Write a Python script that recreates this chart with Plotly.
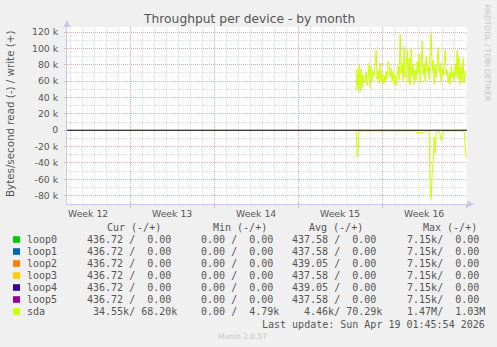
import pandas as pd
import plotly.graph_objects as go

# ---------------- data ----------------
# sda write (+) and read (-) throughput, in kB/s, 2-hour samples
sda_write_k = [
    48, 75, 50, 80, 47, 75, 52, 68, 58, 62,
    72, 55, 65, 82, 52, 78, 60, 72, 66, 85,
    98, 62, 74, 58, 82, 60, 70, 57, 66, 58,
    72, 62, 84, 80, 65, 76, 60, 72, 56, 68,
    54, 65, 78, 62, 117, 70, 82, 60, 102, 64,
    78, 98, 58, 88, 55, 100, 66, 80, 56, 74,
    62, 84, 70, 93, 58, 76, 109, 68, 82, 60,
    90, 72, 78, 62, 96, 118, 72, 86, 56, 80,
    64, 88, 101, 70, 82, 60, 76, 66, 84, 98,
    68, 74, 58, 70, 56, 78, 64, 72, 60, 80,
    66, 98, 62, 90, 56, 78, 60, 88, 58, 72, 68,
]
sda_read_k = [
    1.0, 33, 24, 1.2, 0.8, 1.1, 0.6, 1.3, 0.9, 1.0,
    0.7, 1.2, 1.0, 0.8, 1.1, 0.9, 1.3, 0.7, 1.0, 1.2,
    0.8, 1.0, 0.9, 1.1, 1.4, 2.7, 1.2, 0.9, 1.0, 0.8,
    1.1, 0.9, 1.0, 1.2, 0.8, 1.0, 1.1, 0.9, 1.3, 0.8,
    1.0, 1.2, 0.9, 1.1, 0.8, 1.0, 1.2, 0.9, 1.0, 1.1,
    0.9, 1.2, 1.0, 0.8, 1.1, 1.0, 1.3, 0.9, 1.0, 1.4,
    3.0, 2.4, 3.4, 2.0, 3.1, 2.6, 3.3, 2.1, 2.9, 1.5,
    1.2, 1.0, 1.3, 2.0, 70, 84, 52, 40, 8, 28,
    2.0, 1.2, 1.0, 1.5, 5, 13, 6, 1.5, 1.0, 1.2,
    0.9, 1.1, 1.0, 1.3, 0.8, 1.0, 1.2, 0.9, 1.1, 1.0,
    1.2, 0.9, 1.0, 1.1, 0.8, 1.0, 1.2, 0.9, 1.0, 20, 34,
]
sda_start = "2026-04-09 20:00"
sample_freq = "2h"

x_range = ["2026-03-16 17:45", "2026-04-19 01:45"]
week_grid = ["2026-03-22", "2026-03-29", "2026-04-05", "2026-04-12", "2026-04-19"]
week_label_pos = ["2026-03-18 12:00", "2026-03-25 12:00", "2026-04-01 12:00",
                  "2026-04-08 12:00", "2026-04-15 12:00"]
week_labels = ["Week 12", "Week 13", "Week 14", "Week 15", "Week 16"]

y_ticks = [-80, -60, -40, -20, 0, 20, 40, 60, 80, 100, 120]
y_ticktext = ["-80 k", "-60 k", "-40 k", "-20 k", "0", "20 k", "40 k",
              "60 k", "80 k", "100 k", "120 k"]

legend_names = ["loop0", "loop1", "loop2", "loop3", "loop4", "loop5", "sda"]
legend_colors = ["#00CC00", "#0066B3", "#FF8000", "#FFCC00", "#330099", "#990099", "#CCFF00"]
legend_cur = ["436.72 /  0.00", "436.72 /  0.00", "436.72 /  0.00", "436.72 /  0.00",
              "436.72 /  0.00", "436.72 /  0.00", " 34.55k/ 68.20k"]
legend_min = ["  0.00 /  0.00", "  0.00 /  0.00", "  0.00 /  0.00", "  0.00 /  0.00",
              "  0.00 /  0.00", "  0.00 /  0.00", "  0.00 /  4.79k"]
legend_avg = ["437.58 /  0.00", "437.58 /  0.00", "439.05 /  0.00", "437.58 /  0.00",
              "439.05 /  0.00", "437.58 /  0.00", "  4.46k/ 70.29k"]
legend_max = ["  7.15k/  0.00", "  7.15k/  0.00", "  7.15k/  0.00", "  7.15k/  0.00",
              "  7.15k/  0.00", "  7.15k/  0.00", "  1.47M/  1.03M"]
legend_headers = ["Cur (-/+)", "Min (-/+)", "Avg (-/+)", "Max (-/+)"]
last_update = "Last update: Sun Apr 19 01:45:54 2026"

# ---------------- layout geometry (pixels) ----------------
W, H = 497, 347
L, R, T, B = 67, 30, 27, 143
PW, PH = W - L - R, H - T - B


def px(x):
    return (x - L) / PW


def py(y):
    return (H - B - y) / PH


TXT = "#555555"
SANS = "DejaVu Sans"
MONO = "DejaVu Sans Mono"
MINOR = "rgba(200,200,200,0.6)"
MAJOR = "rgba(225,140,140,0.6)"
AXIS = "#c8c8f0"

times = pd.date_range(sda_start, periods=len(sda_write_k), freq=sample_freq)

fig = go.Figure()
fig.add_trace(go.Scatter(x=times, y=sda_write_k, mode="lines",
                         line=dict(color="#CCFF00", width=1), hoverinfo="skip",
                         showlegend=False))
fig.add_trace(go.Scatter(x=times, y=[-v for v in sda_read_k], mode="lines",
                         line=dict(color="#CCFF00", width=1), hoverinfo="skip",
                         showlegend=False))

annotations = []


def txt(x, y, s, size=10, font=MONO, color=TXT, anchor="left", angle=0):
    annotations.append(dict(
        x=px(x), y=py(y), xref="paper", yref="paper", text=s.replace(" ", "\u00a0"),
        showarrow=False, xanchor=anchor, yanchor="middle", textangle=angle,
        font=dict(family=font, size=size, color=color), borderpad=0, borderwidth=0))


# week labels, positioned through the x (date) axis
for pos, lab in zip(week_label_pos, week_labels):
    annotations.append(dict(x=pos, y=py(213), xref="x", yref="paper", text=lab,
                            showarrow=False, xanchor="center", yanchor="middle",
                            font=dict(family=SANS, size=9.3, color=TXT),
                            borderpad=0, borderwidth=0))

# title, axis title, watermark
txt(248.5, 19.5, "Throughput per device - by month", size=12.3, font=SANS, anchor="center")
annotations.append(dict(x=px(10), y=py(114), xref="paper", yref="paper",
                        text="Bytes/second read (-) / write (+)", showarrow=False,
                        xanchor="center", yanchor="middle", textangle=-90,
                        font=dict(family=SANS, size=10.3, color=TXT)))
annotations.append(dict(x=px(487.5), y=py(53), xref="paper", yref="paper",
                        text="RRDTOOL / TOBI OETIKER", showarrow=False,
                        xanchor="center", yanchor="middle", textangle=90,
                        font=dict(family=SANS, size=7.5, color="#c4c4c4")))
txt(242, 336, "Munin 2.0.57", size=7.5, font=SANS, color="#c4c4c4", anchor="center")

# legend table
header_x = [107, 213, 309, 423]
for hx, h in zip(header_x, legend_headers):
    txt(hx, 227, h)
shapes = []
for i, name in enumerate(legend_names):
    ry = 239.5 + 12 * i
    shapes.append(dict(type="rect", xref="paper", yref="paper",
                       x0=px(13), x1=px(20), y0=py(ry + 3.3), y1=py(ry - 3.3),
                       fillcolor=legend_colors[i], line=dict(width=0), layer="above"))
    txt(27, ry, name)
    txt(87, ry, legend_cur[i])
    txt(189, ry, legend_min[i])
    txt(292, ry, legend_avg[i])
    txt(395, ry, legend_max[i])
txt(261.5, 324, last_update)

# zero line and axis arrows
shapes.append(dict(type="line", xref="paper", yref="y", x0=0, x1=1, y0=0, y1=0,
                   line=dict(color="black", width=1), layer="above"))
shapes.append(dict(type="path", xref="paper", yref="paper",
                   path=f"M {px(67)} {py(20)} L {px(63.5)} {py(27)} L {px(70.5)} {py(27)} Z",
                   fillcolor=AXIS, line=dict(width=0)))
shapes.append(dict(type="path", xref="paper", yref="paper",
                   path=f"M {px(474)} {py(204)} L {px(467)} {py(200.5)} L {px(467)} {py(207.5)} Z",
                   fillcolor=AXIS, line=dict(width=0)))

fig.update_layout(
    width=W, height=H,
    margin=dict(l=L, r=R, t=T, b=B, pad=0),
    paper_bgcolor="#F0F0F0", plot_bgcolor="white",
    font=dict(family=SANS, size=9.3, color=TXT),
    showlegend=False,
    annotations=annotations, shapes=shapes,
    xaxis=dict(type="date", range=x_range, tickmode="array", tickvals=week_grid,
               ticktext=["" for _ in week_grid], showgrid=True, gridcolor=MAJOR,
               griddash="1px,1px", gridwidth=1, ticks="outside", ticklen=3,
               tickcolor=MAJOR, showline=True, linecolor=AXIS, linewidth=1,
               zeroline=False, fixedrange=True,
               minor=dict(tickmode="linear", tick0="2026-03-16", dtick=86400000,
                          showgrid=True, gridcolor=MINOR, griddash="1px,1px",
                          ticks="", gridwidth=1)),
    yaxis=dict(range=[-90.2, 126.2], tickmode="array", tickvals=y_ticks,
               ticktext=y_ticktext, showgrid=True, gridcolor=MAJOR, griddash="1px,1px",
               gridwidth=1, zeroline=False, ticks="outside", ticklen=2, tickcolor=MAJOR,
               showline=True, linecolor=AXIS, linewidth=1, ticklabelstandoff=4,
               tickfont=dict(family=SANS, size=9.3, color=TXT), fixedrange=True,
               minor=dict(tickmode="linear", tick0=0, dtick=10, showgrid=True,
                          gridcolor=MINOR, griddash="1px,1px", gridwidth=1)),
)

fig.write_html("out.html", config={"displayModeBar": False})
